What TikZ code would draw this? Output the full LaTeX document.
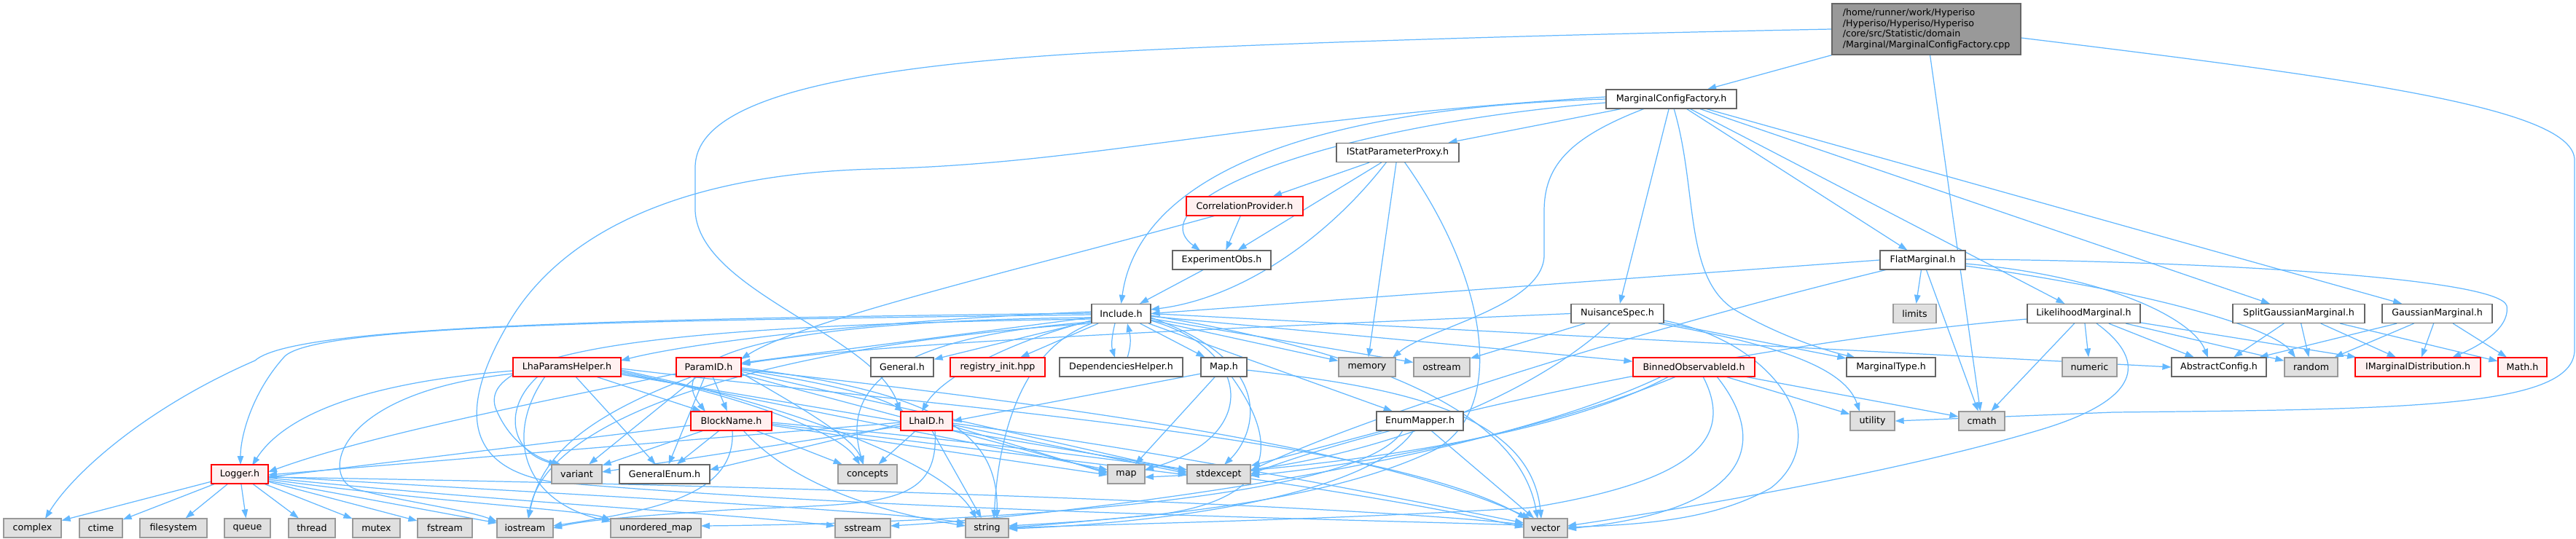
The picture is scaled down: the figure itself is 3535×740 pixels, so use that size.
\documentclass[tikz,border=0pt]{standalone}
\usepackage{fontspec}
\setmainfont{DejaVu Sans}
\usetikzlibrary{arrows.meta}
\pgfdeclarelayer{background}
\pgfsetlayers{background,main}
\definecolor{edgec}{HTML}{63B8FF}
\definecolor{gfill}{HTML}{E0E0E0}
\definecolor{gline}{HTML}{999999}
\definecolor{wline}{HTML}{666666}
\definecolor{rfill}{HTML}{FFF0F0}
\definecolor{rootfill}{HTML}{999999}
\begin{document}
\begin{tikzpicture}[x=0.02cm,y=-0.02cm,
  nd/.style={rectangle, line width=0.7pt, minimum height=0.52cm, inner xsep=2pt, inner ysep=0pt, font=\fontsize{7.2}{8.4}\selectfont, text=black},
  wbox/.style={nd, draw=wline, fill=white},
  gbox/.style={nd, draw=gline, fill=gfill},
  rbox/.style={nd, draw=red, fill=rfill},
  wd/.style={minimum width=#1*0.02cm},
  e/.style={draw=edgec, line width=0.7pt, -{Triangle[length=0.24cm,width=0.17cm]}},
]
\useasboundingbox (0,0) rectangle (3535,740);
% nodes
\node[wbox, fill=rootfill, wd=259, minimum height=1.4cm, align=left] (R) at (2643.5,40) {/home/runner/work/Hyperiso\\/Hyperiso/Hyperiso/Hyperiso\\/core/src/Statistic/domain\\/Marginal/MarginalConfigFactory.cpp};
\node[wbox, wd=179] (MCF) at (2293.5,136) {MarginalConfigFactory.h};
\node[wbox, wd=168] (ISPP) at (1918,209.5) {IStatParameterProxy.h};
\node[rbox, wd=160] (CorrP) at (1708,283) {CorrelationProvider.h};
\node[wbox, wd=135] (ExpObs) at (1676.5,357) {ExperimentObs.h};
\node[wbox, wd=117] (Flat) at (2638.5,357) {FlatMarginal.h};
\node[wbox, wd=81] (Include) at (1538.5,430.5) {Include.h};
\node[wbox, wd=127] (NuisSpec) at (2219.5,430.5) {NuisanceSpec.h};
\node[gbox, wd=59] (Limits) at (2627.5,430.5) {limits};
\node[wbox, wd=155] (LikeM) at (2859.5,430.5) {LikelihoodMarginal.h};
\node[wbox, wd=181] (SplitG) at (3154.5,430.5) {SplitGaussianMarginal.h};
\node[wbox, wd=151] (Gauss) at (3344.5,430.5) {GaussianMarginal.h};
\node[rbox, wd=148] (LhaPH) at (778,504) {LhaParamsHelper.h};
\node[rbox, wd=89] (ParamID) at (972.5,504) {ParamID.h};
\node[wbox, wd=86] (General) at (1238,504) {General.h};
\node[rbox, wd=130] (RegInit) at (1369,504) {registry\_init.hpp};
\node[wbox, wd=169] (DepH) at (1538.5,504) {DependenciesHelper.h};
\node[wbox, wd=63] (MapH) at (1679.5,504) {Map.h};
\node[gbox, wd=78] (Memory) at (1876,504) {memory};
\node[gbox, wd=77] (Ostream) at (1978.5,504) {ostream};
\node[rbox, wd=167] (BinObs) at (2324.5,504) {BinnedObservableId.h};
\node[wbox, wd=122] (MargType) at (2595,504) {MarginalType.h};
\node[gbox, wd=75] (Numeric) at (2867.5,504) {numeric};
\node[wbox, wd=130] (AbsConf) at (3045,504) {AbstractConfig.h};
\node[gbox, wd=73] (Random) at (3171.5,504) {random};
\node[rbox, wd=172] (IMD) at (3318,504) {IMarginalDistribution.h};
\node[rbox, wd=67] (MathH) at (3461.5,504) {Math.h};
\node[rbox, wd=111] (BlockName) at (1003.5,578) {BlockName.h};
\node[rbox, wd=71] (LhaID) at (1271.5,578) {LhaID.h};
\node[wbox, wd=119] (EnumMapper) at (1948.5,578) {EnumMapper.h};
\node[gbox, wd=61] (Utility) at (2569.5,578) {utility};
\node[gbox, wd=63] (Cmath) at (2719.5,578) {cmath};
\node[rbox, wd=78] (Logger) at (329,651) {Logger.h};
\node[gbox, wd=69] (Variant) at (791.5,651) {variant};
\node[wbox, wd=124] (GenEnum) at (912,651) {GeneralEnum.h};
\node[gbox, wd=81] (Concepts) at (1190.5,651) {concepts};
\node[gbox, wd=51] (Map) at (1545.5,651) {map};
\node[gbox, wd=87] (Stdexcept) at (1672.5,651) {stdexcept};
\node[gbox, wd=79] (Complex) at (44.5,725) {complex};
\node[gbox, wd=59] (Ctime) at (138.5,725) {ctime};
\node[gbox, wd=92] (Filesystem) at (238,725) {filesystem};
\node[gbox, wd=63] (Queue) at (339.5,725) {queue};
\node[gbox, wd=64] (Thread) at (428,725) {thread};
\node[gbox, wd=65] (Mutex) at (516.5,725) {mutex};
\node[gbox, wd=75] (Fstream) at (610.5,725) {fstream};
\node[gbox, wd=77] (Iostream) at (720.5,725) {iostream};
\node[gbox, wd=124] (UMap) at (900,725) {unordered\_map};
\node[gbox, wd=76] (Sstream) at (1184,725) {sstream};
\node[gbox, wd=59] (String) at (1354.5,725) {string};
\node[gbox, wd=60] (Vector) at (2121,725) {vector};
% edges
\begin{pgfonlayer}{background}
\fill[white] (0,0) rectangle (3535,740);
% root
\draw[e] (R) -- (MCF);
\draw[e] (R) -- (Cmath);
\draw[e] (R.east) ++(0,12) .. controls (3250,110) and (3533,150) .. (3533,220) -- (3533,480) .. controls (3533,560) and (3300,562) .. (2900,566) -- (Utility.east);
\draw[e] (R.west) .. controls (2000,50) and (1600,65) .. (1444,76) .. controls (1100,100) and (954,150) .. (954,230) -- (954,290) .. controls (960,400) and (1200,460) .. (LhaID.north west);
% MCF
\draw[e] (MCF) -- (ISPP);
\draw[e] (MCF.west) .. controls (1750,150) and (1560,260) .. (Include.north);
\draw[e] (MCF.west) ++(0,5) .. controls (1800,175) and (1560,280) .. (1647,344);
\draw[e] (MCF) -- (NuisSpec);
\draw[e] (2297,149) .. controls (2330,260) and (2310,380) .. (2380,425) .. controls (2440,460) and (2500,480) .. (2546,491);
\draw[e] (MCF) -- (Flat);
\draw[e] (MCF) -- (LikeM);
\draw[e] (MCF) -- (SplitG);
\draw[e] (MCF) -- (Gauss);
\draw[e] (2257,149) .. controls (2150,190) and (2119,230) .. (2119,290) -- (2119,350) .. controls (2119,420) and (1960,450) .. (1911,491);
\draw[e] (MCF.west) ++(0,-3) .. controls (1700,165) and (1500,225) .. (1200,232) .. controls (900,240) and (760,340) .. (700,440) .. controls (640,540) and (620,640) .. (760,662) .. controls (1200,700) and (1800,712) .. (2091,721);
% ISPP
\draw[e] (ISPP) -- (CorrP);
\draw[e] (ISPP) -- (ExpObs);
\draw[e] (1903,222) .. controls (1820,330) and (1700,410) .. (1579,425);
\draw[e] (ISPP) -- (Memory);
\draw[e] (1927,222) .. controls (2040,380) and (2070,560) .. (1970,617) .. controls (1800,700) and (1500,715) .. (1384,722);
% CorrP, ExpObs
\draw[e] (CorrP) -- (ExpObs);
\draw[e] (1668,296) .. controls (1400,370) and (1100,440) .. (1017,493);
\draw[e] (ExpObs) -- (Include);
% Flat
\draw[e] (Flat.west) -- (Include.east);
\draw[e] (Flat) -- (Limits);
\draw[e] (Flat) -- (Cmath);
\draw[e] (2590,370) .. controls (2300,440) and (1900,560) .. (1716,646);
\draw[e] (2697,362) .. controls (2900,380) and (3010,440) .. (3030,491);
\draw[e] (2697,365) .. controls (2950,400) and (3120,450) .. (3150,491);
\draw[e] (2697,356) .. controls (3000,358) and (3430,380) .. (3440,420) .. controls (3445,455) and (3390,480) .. (3365,491);
% LikeM
\draw[e] (LikeM) -- (Numeric);
\draw[e] (LikeM) -- (AbsConf);
\draw[e] (LikeM) -- (Random);
\draw[e] (LikeM) -- (IMD);
\draw[e] (LikeM) -- (Cmath);
\draw[e] (2877,444) .. controls (2940,490) and (2950,545) .. (2800,590) .. controls (2600,650) and (2300,700) .. (2151,722);
\draw[e] (2782,438) .. controls (2400,470) and (1900,580) .. (1716,651);
% SplitG, Gauss
\draw[e] (SplitG) -- (AbsConf);
\draw[e] (SplitG) -- (Random);
\draw[e] (SplitG) -- (IMD);
\draw[e] (SplitG) -- (MathH);
\draw[e] (Gauss) -- (AbsConf);
\draw[e] (Gauss) -- (Random);
\draw[e] (Gauss) -- (IMD);
\draw[e] (Gauss) -- (MathH);
% NuisSpec
\draw[e] (NuisSpec.west) .. controls (1700,450) and (1200,470) .. (1017,500);
\draw[e] (NuisSpec) -- (Ostream);
\draw[e] (NuisSpec) -- (MargType);
\draw[e] (2276,444) .. controls (2420,470) and (2530,500) .. (2552,565);
\draw[e] (2283,440) .. controls (2440,470) and (2520,600) .. (2430,670) .. controls (2350,715) and (2250,720) .. (2151,724);
\draw[e] (2209,444) .. controls (2100,545) and (1900,620) .. (1716,645);
% BinObs
\draw[e] (BinObs) -- (Utility);
\draw[e] (BinObs) -- (Cmath);
\draw[e] (2337,517) .. controls (2380,600) and (2330,660) .. (2100,697) .. controls (1800,715) and (1500,720) .. (1384,725);
\draw[e] (2356,517) .. controls (2430,610) and (2400,700) .. (2151,726);
\draw[e] (2300,517) .. controls (2100,600) and (1850,640) .. (1716,653);
\draw[e] (2290,517) .. controls (2100,620) and (1700,650) .. (1571,655);
\draw[e] (2280,517) .. controls (2000,650) and (1400,712) .. (1222,722);
% Include
\draw[e] (1498,428) .. controls (1200,440) and (950,470) .. (852,495);
\draw[e] (Include) -- (ParamID);
\draw[e] (Include) -- (General);
\draw[e] (Include) -- (RegInit);
\draw[e] (1530,444) .. controls (1525,465) and (1525,475) .. (1530,491);
\draw[e] (1547,491) .. controls (1552,475) and (1552,465) .. (1547,444);
\draw[e] (Include) -- (MapH);
\draw[e] (Include) -- (Memory);
\draw[e] (Include) -- (Ostream);
\draw[e] (Include) -- (BinObs);
\draw[e] (Include) -- (EnumMapper);
\draw[e] (Include.east) -- (AbsConf.west);
\draw[e] (1498,440) .. controls (1380,470) and (1290,520) .. (1265,565);
\draw[e] (1498,436) .. controls (1100,440) and (900,480) .. (968,565);
\draw[e] (1498,432) .. controls (900,440) and (430,445) .. (390,490) .. controls (345,540) and (330,600) .. (330,638);
\draw[e] (1498,430) .. controls (800,438) and (400,450) .. (350,495) .. controls (200,560) and (100,650) .. (62,712);
\draw[e] (1498,438) .. controls (1000,445) and (650,470) .. (680,560) .. controls (700,610) and (740,630) .. (770,638);
\draw[e] (1498,442) .. controls (1250,460) and (1150,520) .. (1185,638);
\draw[e] (1579,440) .. controls (1720,480) and (1730,600) .. (1571,645);
\draw[e] (1579,436) .. controls (1760,500) and (1720,600) .. (1680,638);
\draw[e] (1498,444) .. controls (1400,480) and (1370,600) .. (1364,712);
\draw[e] (1579,433) .. controls (1800,470) and (2080,540) .. (2110,712);
\draw[e] (1498,444) .. controls (1100,470) and (750,560) .. (725,712);
% MapH
\draw[e] (1648,513) -- (LhaID.east);
\draw[e] (MapH) -- (Map);
\draw[e] (1690,517) .. controls (1750,600) and (1760,680) .. (1600,705) .. controls (1500,715) and (1420,722) .. (1384,724);
\draw[e] (1711,508) .. controls (1900,530) and (2100,560) .. (2115,712);
% EnumMapper
\draw[e] (EnumMapper) -- (Stdexcept);
\draw[e] (1940,591) .. controls (1880,680) and (1600,718) .. (1384,726);
\draw[e] (EnumMapper) -- (Vector);
\draw[e] (1925,591) .. controls (1860,700) and (1200,720) .. (962,722);
% LhaPH
\draw[e] (704,509) .. controls (500,525) and (390,570) .. (346,639);
\draw[e] (704,513) .. controls (450,540) and (440,660) .. (490,672) .. controls (560,690) and (640,700) .. (682,716);
\draw[e] (738,517) .. controls (690,560) and (700,620) .. (765,638);
\draw[e] (748,517) .. controls (690,600) and (720,690) .. (838,716);
\draw[e] (LhaPH) -- (GenEnum);
\draw[e] (LhaPH) -- (BlockName);
\draw[e] (852,510) .. controls (1000,540) and (1150,590) .. (1180,638);
\draw[e] (852,512) -- (1520,645);
\draw[e] (852,514) -- (1629,645);
\draw[e] (852,508) .. controls (1100,560) and (1300,640) .. (1340,712);
\draw[e] (852,506) .. controls (1300,560) and (1900,600) .. (2095,712);
% ParamID
\draw[e] (ParamID) -- (BlockName);
\draw[e] (ParamID) -- (Variant);
\draw[e] (ParamID) -- (GenEnum);
\draw[e] (1017,512) .. controls (1100,560) and (1170,600) .. (1185,638);
\draw[e] (928,513) .. controls (700,560) and (500,600) .. (368,648);
\draw[e] (950,517) .. controls (780,580) and (740,640) .. (725,712);
\draw[e] (1017,508) .. controls (1100,520) and (1200,540) .. (1240,565);
\draw[e] (1017,514) -- (1520,648);
\draw[e] (1017,510) -- (1629,648);
\draw[e] (1017,505) .. controls (1300,540) and (1370,600) .. (1368,712);
\draw[e] (1017,507) .. controls (1500,560) and (1900,620) .. (2100,712);
% BlockName
\draw[e] (BlockName) -- (Variant);
\draw[e] (BlockName) -- (GenEnum);
\draw[e] (BlockName) -- (Concepts);
\draw[e] (948,584) -- (368,655);
\draw[e] (1005,591) .. controls (1010,680) and (900,700) .. (759,722);
\draw[e] (1020,591) .. controls (1100,680) and (1250,710) .. (1325,722);
\draw[e] (1059,584) -- (1520,652);
\draw[e] (1059,582) -- (1629,652);
\draw[e] (1059,580) .. controls (1500,620) and (1900,680) .. (2091,724);
% LhaID
\draw[e] (LhaID) -- (Concepts);
\draw[e] (1236,582) -- (974,645);
\draw[e] (1236,585) -- (826,648);
\draw[e] (1236,580) -- (368,652);
\draw[e] (LhaID) -- (String);
\draw[e] (1283,591) .. controls (1290,700) and (1200,690) .. (1000,700) .. controls (850,710) and (800,715) .. (759,725);
\draw[e] (1307,585) -- (1520,650);
\draw[e] (1307,583) -- (1629,650);
\draw[e] (1307,581) .. controls (1600,620) and (1900,680) .. (2091,718);
% Logger
\draw[e] (Logger) -- (Complex);
\draw[e] (Logger) -- (Ctime);
\draw[e] (Logger) -- (Filesystem);
\draw[e] (Logger) -- (Queue);
\draw[e] (Logger) -- (Thread);
\draw[e] (Logger) -- (Mutex);
\draw[e] (Logger) -- (Fstream);
\draw[e] (368,660) -- (682,718);
\draw[e] (368,658) .. controls (600,690) and (800,700) .. (838,714);
\draw[e] (368,656) .. controls (700,690) and (1000,705) .. (1146,722);
\draw[e] (368,654) .. controls (800,680) and (1200,700) .. (1325,718);
\draw[e] (368,655) .. controls (1000,665) and (1800,690) .. (2091,720);
\end{pgfonlayer}
\end{tikzpicture}
\end{document}
